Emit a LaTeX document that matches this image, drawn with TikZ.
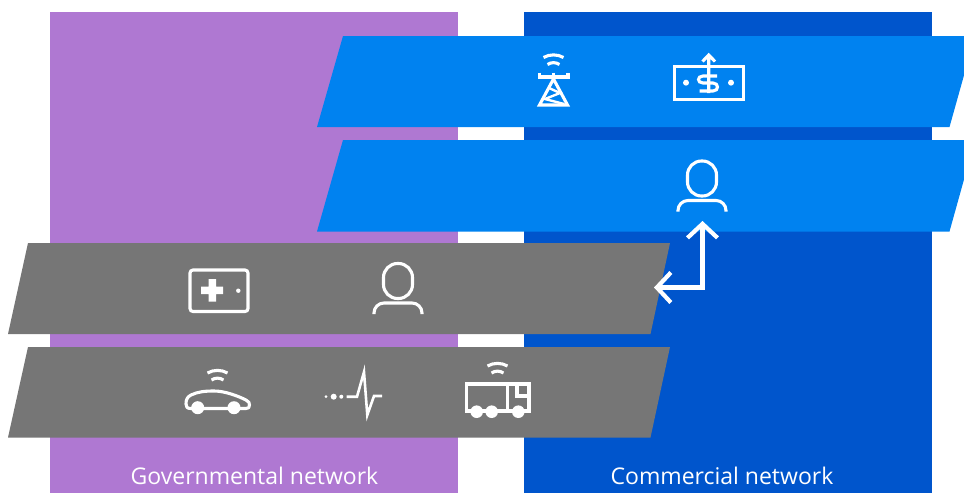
\documentclass[tikz,border=0pt]{standalone}
\usepackage{fontspec}
\setmainfont{Open Sans}
\usetikzlibrary{arrows.meta}
\definecolor{govpurple}{HTML}{AF78D2}
\definecolor{comblue}{HTML}{0055CC}
\definecolor{sliceblue}{HTML}{0082F0}
\definecolor{slicegray}{HTML}{767676}
\tikzset{%
  network/.style={fill=#1,minimum width=408pt,minimum height=481pt,inner sep=0pt},
  netlabel/.style={text=white,font=\fontsize{23}{26}\selectfont},
  icon/.style={draw=white,line width=3.1pt,fill=none},
  dot/.style={fill=white,draw=none},
  link/.style={draw=white,line width=4.2pt,{Straight Barb[length=14pt,width=30pt]}-{Straight Barb[length=14pt,width=30pt]}},
  pics/person/.style={code={
    \draw[icon,rounded corners=14pt] (-14.5,-17.5) rectangle (14.5,17.5);
    \draw[icon,rounded corners=10pt] (-24,33) -- (-24,22) -- (24,22) -- (24,33);
  }},
  pics/wifi/.style={code={
    \draw[icon] (-10,2) .. controls (-4,-1.5) and (4,-1.5) .. (10,2);
    \draw[icon] (-6,9) .. controls (-2,6.5) and (2,6.5) .. (6,9);
  }}
}
\begin{document}
\begin{tikzpicture}[x=1pt,y=-1pt]
  \useasboundingbox (0,0) rectangle (964,493);
  \clip (0,0) rectangle (964,493);

  \node[network=govpurple] (gov) at (254,252.5) {};
  \node[network=comblue] (com) at (728,252.5) {};
  \node[netlabel] (govlabel) at (254.5,476) {Governmental network};
  \node[netlabel] (comlabel) at (722,476) {Commercial network};

  \fill[sliceblue] (343,36) -- (975,36) -- (949.5,127) -- (317,127) -- cycle;
  \fill[sliceblue] (343,140) -- (975,140) -- (949.5,231.5) -- (317,231.5) -- cycle;
  \fill[slicegray] (28,243) -- (670,243) -- (650.5,334) -- (8,334) -- cycle;
  \fill[slicegray] (28,347) -- (670,347) -- (650.5,437.5) -- (8,437.5) -- cycle;

  % tower
  \pic at (553.5,55.5) {wifi};
  \draw[icon] (539.5,72.5) -- (539.5,77) -- (568,77) -- (568,72.5) (553.5,72.5) -- (553.5,77);
  \draw[icon,line join=miter] (553.5,79) -- (567.5,105) -- (539.5,105) -- cycle;
  \draw[icon,line width=2.4pt] (549,88) -- (560,93) -- (545,99) -- (564,104);

  % money
  \draw[icon] (674.5,66.5) rectangle (743.5,99.5);
  \draw[icon] (708.7,55) -- (708.7,93) (702.5,61.5) -- (708.7,55) -- (715,61.5);
  \draw[icon] (717,76) -- (703,76) .. controls (697,76) and (697,83) .. (703,83) -- (713,83)
    .. controls (719,83) and (719,91) .. (713,91) -- (699.5,91);
  \fill[dot] (686,82.7) circle (3) (731,82.7) circle (3);

  % persons
  \pic (midperson) at (702,178.5) {person};
  \pic (upperperson) at (398,281) {person};

  % link
  \coordinate (midtip) at (702.5,221);
  \coordinate (uppertip) at (654,287.5);
  \draw[link] (midtip) |- (uppertip);

  % health
  \draw[icon,rounded corners=3pt] (190,270) rectangle (248,311.5);
  \fill[dot] (201,286.5) rectangle (223,294) (208.5,279) rectangle (216,301.5);
  \fill[dot] (238.3,290.7) circle (2.2);

  % car
  \pic at (217.5,371) {wifi};
  \draw[icon,line join=round] (191,408.5) .. controls (187,408.5) and (186,407) .. (186,404)
    .. controls (186,400) and (187,397) .. (191,395)
    .. controls (198,391.5) and (206,391) .. (214,391)
    .. controls (225,391) and (238,396) .. (246,400)
    .. controls (249,401.5) and (249.5,403) .. (249.5,405)
    .. controls (249.5,407.5) and (248.5,408.5) .. (246,408.5) -- cycle;
  \fill[dot] (197.7,407.7) circle (6.5) (234,407.7) circle (6.5);

  % pulse
  \fill[dot] (326,396.7) circle (1.5) (333.7,396.7) circle (3) (341.3,396.7) circle (2);
  \draw[icon,line width=2.6pt,line join=miter] (346.7,396.7) -- (357,396.7) -- (364,372) -- (367.3,415) -- (374,396) -- (382,396);

  % truck
  \pic at (497.5,364) {wifi};
  \draw[icon] (466.5,411) -- (466.5,384) -- (529,384) -- (529,411) -- cycle;
  \draw[icon] (507.3,384) -- (507.3,411) (517,384) -- (517,396) -- (529,396);
  \fill[dot] (476.7,411.7) circle (6.3) (491.7,411.7) circle (6.3) (518.3,411.7) circle (6.3);
\end{tikzpicture}
\end{document}
